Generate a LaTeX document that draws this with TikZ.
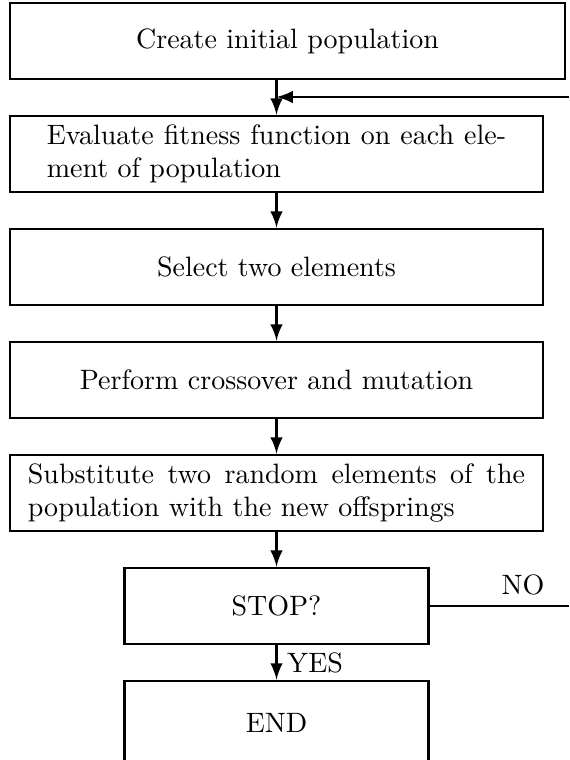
\documentclass[tikz,border=0pt]{standalone}
\usepackage{amsfonts}
\usetikzlibrary{arrows}

\begin{document}
\begin{tikzpicture}[x=0.357pt,y=-0.357pt,line width=1pt,>=latex,
  stepbox/.style={rectangle,draw,minimum width=190.3pt,minimum height=27.1pt,inner sep=0pt},
  testbox/.style={rectangle,draw,minimum width=108.5pt,minimum height=27.1pt}]
\useasboundingbox (0,0) rectangle (569,760);
\node [stepbox,minimum width=198.1pt] (init) at (287.5,41) {Create initial population};
\node [stepbox,text width=164pt,align=justify] (eval) at (276.5,154)
  {Evaluate fitness function on each ele-\linebreak ment of population};
\node [stepbox] (select) at (276.5,267) {Select two elements};
\node [stepbox] (cross) at (276.5,380) {Perform crossover and mutation};
\node [stepbox,text width=177.5pt,align=justify] (subst) at (276.5,493)
  {Substitute two random elements of the\linebreak population with the new offsprings};
\node [testbox] (stop) at (276.5,606) {STOP?};
\node [testbox,minimum height=30pt] (end) at (276.5,723) {END};
\coordinate (back) at (569,97);
\coordinate (noend) at (569,606);
% main flow
\draw [->] (init.south -| eval.north) -- (eval.north);
\draw [->] (eval) -- (select);
\draw [->] (select) -- (cross);
\draw [->] (cross) -- (subst);
\draw [->] (subst) -- (stop);
\draw [->] (stop) -- node [right] {YES} (end);
% loop back
\draw (stop.east) -- node [pos=0.67,above] {NO} (noend);
\draw [->] (back) -- (back -| eval.north);
\end{tikzpicture}
\end{document}
